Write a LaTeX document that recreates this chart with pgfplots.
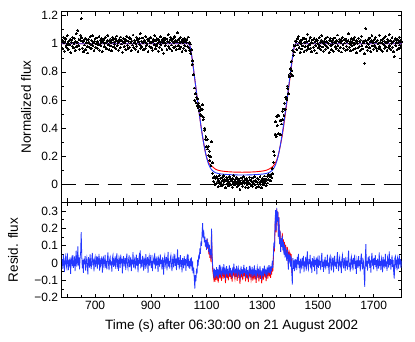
\documentclass[border=0pt]{standalone}
\usepackage{fontspec}
\setmainfont{Liberation Sans}
\usepackage{pgfplots}
\usepackage{pgfplotstable}
\pgfplotsset{compat=1.18}
\definecolor{fitblue}{RGB}{35,55,255}
\definecolor{fitred}{RGB}{255,0,0}

% light curve: time, normalized flux, residual (blue fit)
\pgfplotstableread{
t f r
582 1.021 0.021
584 0.966 -0.034
586 1.047 0.047
588 1.008 0.008
590 0.948 -0.052
592 1.015 0.015
594 1.036 0.036
596 0.989 -0.011
598 0.973 -0.027
600 1.058 0.058
602 1.004 0.004
604 0.959 -0.041
606 1.019 0.019
608 0.994 -0.006
610 1.032 0.032
612 0.937 -0.063
614 1.011 0.011
616 1.027 0.027
618 0.982 -0.018
620 1.044 0.044
622 0.971 -0.029
624 1.002 0.002
626 1.038 0.038
628 0.953 -0.047
630 1.013 0.013
632 1.071 0.071
634 0.978 -0.022
636 1.009 0.009
638 1.095 0.095
640 0.985 -0.015
642 1.031 0.031
644 0.962 -0.038
646 1.026 0.026
648 1.061 0.061
650 1.178 0.178
652 1.042 0.042
654 0.969 -0.031
656 1.017 0.017
658 0.942 -0.058
660 1.024 0.024
662 0.991 -0.009
664 1.039 0.039
666 0.956 -0.044
668 1.006 0.006
670 1.028 0.028
672 0.979 -0.021
674 0.934 -0.066
676 1.033 0.033
678 1.012 0.012
680 0.973 -0.027
682 1.049 0.049
684 0.997 -0.003
686 0.964 -0.036
688 1.022 0.022
690 1.057 0.057
692 0.986 -0.014
694 1.007 0.007
696 0.951 -0.049
698 1.018 0.018
700 1.035 0.035
702 0.976 -0.024
704 1.003 0.003
706 1.041 0.041
708 0.967 -0.033
710 1.014 0.014
712 0.992 -0.008
714 1.052 0.052
716 0.955 -0.045
718 1.026 0.026
720 0.988 -0.012
722 1.009 0.009
724 1.037 0.037
726 0.944 -0.056
728 1.016 0.016
730 1.029 0.029
732 0.981 -0.019
734 1.004 0.004
736 1.046 0.046
738 0.972 -0.028
740 1.011 0.011
742 0.963 -0.037
744 1.023 0.023
746 1.061 0.061
748 0.993 -0.007
750 0.958 -0.042
752 1.019 0.019
754 1.033 0.033
756 0.984 -0.016
758 1.008 0.008
760 0.949 -0.051
762 1.027 0.027
764 1.044 0.044
766 0.977 -0.023
768 1.012 0.012
770 0.996 -0.004
772 1.038 0.038
774 0.965 -0.035
776 1.021 0.021
778 1.055 0.055
780 0.987 -0.013
782 1.006 0.006
784 0.954 -0.046
786 1.031 0.031
788 1.017 0.017
790 0.971 -0.029
792 1.048 0.048
794 0.998 -0.002
796 1.025 0.025
798 0.939 -0.061
800 1.014 0.014
802 1.039 0.039
804 0.980 -0.020
806 1.007 0.007
808 1.029 0.029
810 0.959 -0.041
812 1.022 0.022
814 1.053 0.053
816 0.989 -0.011
818 0.968 -0.032
820 1.016 0.016
822 1.043 0.043
824 0.975 -0.025
826 1.005 0.005
828 1.034 0.034
830 0.952 -0.048
832 1.019 0.019
834 0.991 -0.009
836 1.062 0.062
838 0.973 -0.027
840 1.011 0.011
842 1.024 0.024
844 0.962 -0.038
846 1.003 0.003
848 1.047 0.047
850 0.983 -0.017
852 1.028 0.028
854 0.946 -0.054
856 1.013 0.013
858 1.036 0.036
860 0.994 -0.006
862 1.072 0.072
864 0.969 -0.031
866 1.018 0.018
868 0.978 -0.022
870 1.041 0.041
872 1.009 0.009
874 0.956 -0.044
876 1.026 0.026
878 1.015 0.015
880 0.965 -0.035
882 1.051 0.051
884 0.988 -0.012
886 1.004 0.004
888 1.033 0.033
890 0.942 -0.058
892 1.021 0.021
894 1.039 0.039
896 0.981 -0.019
898 1.007 0.007
900 1.046 0.046
902 0.971 -0.029
904 1.012 0.012
906 0.953 -0.047
908 1.031 0.031
910 1.018 0.018
912 0.992 -0.008
914 1.058 0.058
916 0.964 -0.036
918 1.024 0.024
920 0.985 -0.015
922 1.037 0.037
924 1.002 0.002
926 0.948 -0.052
928 1.028 0.028
930 1.013 0.013
932 0.976 -0.024
934 1.049 0.049
936 0.994 -0.006
938 1.019 0.019
940 0.961 -0.039
942 1.031 0.031
944 1.008 0.008
946 0.932 -0.068
948 1.022 0.022
950 1.041 0.041
952 0.986 -0.014
954 1.005 0.005
956 1.034 0.034
958 0.957 -0.043
960 1.016 0.016
962 1.063 0.063
964 0.979 -0.021
966 1.011 0.011
968 0.967 -0.033
970 1.027 0.027
972 1.044 0.044
974 0.991 -0.009
976 0.952 -0.048
978 1.019 0.019
980 1.036 0.036
982 0.974 -0.026
984 1.007 0.007
986 1.052 0.052
988 0.983 -0.017
990 1.024 0.024
992 0.959 -0.041
994 1.013 0.013
996 1.078 0.078
998 0.988 -0.012
1000 1.031 0.031
1002 0.963 -0.037
1004 1.009 0.009
1006 1.045 0.045
1008 0.977 -0.023
1010 1.017 0.017
1012 0.945 -0.055
1014 1.028 0.028
1016 1.006 0.006
1018 0.969 -0.031
1020 1.039 0.039
1022 0.986 -0.014
1024 1.022 0.022
1026 0.954 -0.046
1028 1.011 0.011
1030 1.033 0.033
1032 0.981 -0.019
1034 1.048 0.048
1036 0.973 -0.027
1038 1.009 0.012
1040 0.953 -0.035
1042 0.998 0.026
1044 0.933 -0.018
1046 0.957 0.031
1048 0.854 -0.044
1050 0.878 0.009
1052 0.778 -0.061
1054 0.780 -0.028
1056 0.685 -0.092
1058 0.598 -0.148
1060 0.644 -0.071
1062 0.579 -0.105
1064 0.619 -0.034
1066 0.560 -0.062
1068 0.609 0.018
1070 0.546 -0.015
1072 0.578 0.047
1074 0.522 0.021
1076 0.555 0.083
1078 0.495 0.052
1080 0.539 0.124
1082 0.486 0.098
1084 0.533 0.171
1086 0.566 0.229
1088 0.459 0.146
1090 0.477 0.187
1092 0.386 0.118
1094 0.399 0.152
1096 0.321 0.094
1098 0.340 0.131
1100 0.268 0.076
1102 0.319 0.142
1104 0.251 0.088
1106 0.270 0.119
1108 0.203 0.063
1110 0.236 0.105
1112 0.170 0.047
1114 0.197 0.081
1116 0.134 0.024
1118 0.303 0.198
1120 0.152 0.052
1122 0.078 -0.018
1124 0.047 -0.046
1126 0.019 -0.071
1128 0.054 -0.033
1130 -0.004 -0.089
1132 0.042 -0.041
1134 0.003 -0.078
1136 0.055 -0.025
1138 0.016 -0.063
1140 0.041 -0.037
1142 -0.017 -0.094
1144 0.028 -0.048
1146 0.063 -0.012
1148 0.006 -0.069
1150 0.043 -0.031
1152 0.016 -0.057
1154 -0.010 -0.083
1156 0.051 -0.022
1158 0.027 -0.046
1160 0.001 -0.071
1162 0.064 -0.008
1164 0.019 -0.053
1166 0.033 -0.039
1168 -0.025 -0.097
1170 0.026 -0.044
1172 0.051 -0.019
1174 0.004 -0.066
1176 0.035 -0.035
1178 -0.011 -0.081
1180 0.017 -0.052
1182 0.055 -0.014
1184 0.008 -0.061
1186 0.040 -0.029
1188 -0.005 -0.074
1190 0.025 -0.043
1192 -0.020 -0.088
1194 0.042 -0.026
1196 0.010 -0.058
1198 0.064 -0.004
1200 0.018 -0.049
1202 -0.005 -0.072
1204 0.034 -0.033
1206 0.006 -0.061
1208 0.050 -0.017
1210 -0.018 -0.084
1212 0.021 -0.045
1214 0.038 -0.028
1216 -0.001 -0.067
1218 0.027 -0.039
1220 -0.035 -0.101
1222 0.012 -0.054
1224 0.045 -0.021
1226 0.003 -0.063
1228 0.030 -0.036
1230 -0.013 -0.079
1232 0.019 -0.047
1234 0.055 -0.011
1236 0.008 -0.058
1238 0.034 -0.032
1240 -0.020 -0.086
1242 0.015 -0.051
1244 0.042 -0.024
1246 -0.003 -0.069
1248 0.025 -0.042
1250 -0.024 -0.091
1252 0.012 -0.055
1254 0.049 -0.018
1256 0.003 -0.064
1258 0.031 -0.037
1260 -0.008 -0.076
1262 0.019 -0.049
1264 0.045 -0.023
1266 -0.014 -0.082
1268 0.023 -0.046
1270 0.008 -0.061
1272 0.054 -0.015
1274 -0.004 -0.073
1276 0.028 -0.041
1278 -0.025 -0.095
1280 0.018 -0.052
1282 0.043 -0.027
1284 0.002 -0.068
1286 0.036 -0.034
1288 -0.015 -0.087
1290 0.016 -0.056
1292 0.053 -0.019
1294 0.000 -0.072
1296 0.029 -0.043
1298 -0.025 -0.098
1300 0.015 -0.058
1302 0.042 -0.031
1304 -0.004 -0.077
1306 0.029 -0.045
1308 0.059 -0.016
1310 0.011 -0.064
1312 0.038 -0.038
1314 -0.008 -0.085
1316 0.029 -0.049
1318 0.057 -0.022
1320 0.009 -0.071
1322 0.037 -0.044
1324 0.070 -0.013
1326 0.027 -0.058
1328 0.055 -0.032
1330 0.024 -0.066
1332 0.072 -0.021
1334 0.049 -0.047
1336 0.112 0.012
1338 0.076 -0.029
1340 0.156 0.046
1342 0.234 0.118
1344 0.207 0.084
1346 0.357 0.226
1348 0.445 0.305
1350 0.338 0.187
1352 0.481 0.318
1354 0.418 0.241
1356 0.488 0.296
1358 0.361 0.152
1360 0.490 0.263
1362 0.355 0.108
1364 0.455 0.187
1366 0.354 0.064
1368 0.454 0.141
1370 0.429 0.092
1372 0.520 0.158
1374 0.461 0.073
1376 0.536 0.121
1378 0.491 0.048
1380 0.578 0.106
1382 0.532 0.031
1384 0.620 0.089
1386 0.615 0.054
1388 0.603 0.012
1390 0.699 0.077
1392 0.681 0.028
1394 0.645 -0.039
1396 0.776 0.061
1398 0.765 0.019
1400 0.821 0.044
1402 0.787 -0.021
1404 0.875 0.036
1406 0.811 -0.058
1408 0.772 -0.126
1410 0.953 0.027
1412 0.917 -0.034
1414 0.987 0.015
1416 0.941 -0.047
1418 1.019 0.022
1420 0.989 -0.011
1422 1.018 0.018
1424 0.958 -0.042
1426 1.035 0.035
1428 0.991 -0.009
1430 1.052 0.052
1432 0.972 -0.028
1434 1.011 0.011
1436 0.939 -0.061
1438 1.024 0.024
1440 1.003 0.003
1442 0.963 -0.037
1444 1.029 0.029
1446 0.984 -0.016
1448 1.041 0.041
1450 0.947 -0.053
1452 1.008 0.008
1454 0.978 -0.022
1456 1.034 0.034
1458 0.955 -0.045
1460 1.013 0.013
1462 1.067 0.067
1464 0.981 -0.019
1466 0.964 -0.036
1468 1.021 0.021
1470 0.993 -0.007
1472 1.046 0.046
1474 0.969 -0.031
1476 1.009 0.009
1478 0.942 -0.058
1480 1.027 0.027
1482 1.005 0.005
1484 0.976 -0.024
1486 1.039 0.039
1488 0.953 -0.047
1490 1.016 0.016
1492 0.988 -0.012
1494 1.031 0.031
1496 0.934 -0.066
1498 1.022 0.022
1500 1.004 0.004
1502 0.971 -0.029
1504 1.043 0.043
1506 0.985 -0.015
1508 1.011 0.011
1510 0.959 -0.041
1512 1.026 0.026
1514 1.057 0.057
1516 0.977 -0.023
1518 1.007 0.007
1520 0.948 -0.052
1522 1.019 0.019
1524 0.994 -0.006
1526 1.035 0.035
1528 0.962 -0.038
1530 1.014 0.014
1532 0.983 -0.017
1534 1.048 0.048
1536 0.973 -0.027
1538 1.002 0.002
1540 0.937 -0.063
1542 1.025 0.025
1544 1.038 0.038
1546 0.989 -0.011
1548 0.956 -0.044
1550 1.017 0.017
1552 0.997 -0.003
1554 1.031 0.031
1556 0.945 -0.055
1558 1.012 0.012
1560 1.041 0.041
1562 0.979 -0.021
1564 1.006 0.006
1566 0.965 -0.035
1568 1.024 0.024
1570 1.062 0.062
1572 0.986 -0.014
1574 0.952 -0.048
1576 1.016 0.016
1578 1.033 0.033
1580 0.974 -0.026
1582 1.009 0.009
1584 0.941 -0.059
1586 1.021 0.021
1588 1.044 0.044
1590 0.992 -0.008
1592 0.968 -0.032
1594 1.027 0.027
1596 1.005 0.005
1598 0.954 -0.046
1600 1.034 0.034
1602 0.982 -0.018
1604 1.013 0.013
1606 0.961 -0.039
1608 1.023 0.023
1610 1.071 0.071
1612 0.976 -0.024
1614 1.001 0.001
1616 0.949 -0.051
1618 1.018 0.018
1620 1.036 0.036
1622 0.987 -0.013
1624 1.008 0.008
1626 0.957 -0.043
1628 1.029 0.029
1630 0.993 -0.007
1632 1.047 0.047
1634 0.966 -0.034
1636 1.012 0.012
1638 0.936 -0.064
1640 1.021 0.021
1642 1.003 0.003
1644 0.972 -0.028
1646 1.039 0.039
1648 0.981 -0.019
1650 1.015 0.015
1652 0.951 -0.049
1654 1.026 0.026
1656 1.053 0.053
1658 0.988 -0.012
1660 0.963 -0.037
1662 1.019 0.019
1664 1.006 0.006
1666 0.928 -0.072
1668 0.861 -0.139
1670 1.024 0.024
1672 1.108 0.108
1674 0.979 -0.021
1676 1.011 0.011
1678 0.955 -0.045
1680 1.032 0.032
1682 0.996 -0.004
1684 1.041 0.041
1686 0.971 -0.029
1688 1.014 0.014
1690 0.944 -0.056
1692 1.022 0.022
1694 1.058 0.058
1696 0.984 -0.016
1698 1.007 0.007
1700 0.962 -0.038
1702 1.029 0.029
1704 0.989 -0.011
1706 1.045 0.045
1708 0.975 -0.025
1710 1.016 0.016
1712 0.953 -0.047
1714 1.024 0.024
1716 1.003 0.003
1718 0.967 -0.033
1720 1.061 0.061
1722 0.982 -0.018
1724 1.012 0.012
1726 0.959 -0.041
1728 1.027 0.027
1730 1.009 0.009
1732 0.946 -0.054
1734 1.035 0.035
1736 0.994 -0.006
1738 1.019 0.019
1740 0.969 -0.031
1742 1.052 0.052
1744 0.978 -0.022
1746 1.008 0.008
1748 0.954 -0.046
1750 1.031 0.031
1752 1.014 0.014
1754 0.973 -0.027
1756 1.066 0.066
1758 0.987 -0.013
1760 1.021 0.021
1762 0.961 -0.039
1764 1.004 0.004
1766 1.043 0.043
1768 0.976 -0.024
1770 1.017 0.017
1772 0.942 -0.058
1774 0.909 -0.091
1776 1.026 0.026
1778 1.038 0.038
1780 0.985 -0.015
1782 1.006 0.006
1784 0.957 -0.043
1786 1.029 0.029
1788 1.011 0.011
1790 0.966 -0.034
1792 1.047 0.047
1794 0.991 -0.009
1796 1.022 0.022
1798 0.972 -0.028
1800 1.013 0.013
}\lcdata

% residuals against the red fit (where it differs from the blue one)
\pgfplotstableread{
t rr
1098 0.131
1100 0.076
1102 0.139
1104 0.082
1106 0.109
1108 0.050
1110 0.089
1112 0.029
1114 0.061
1116 0.004
1118 0.178
1120 0.032
1122 -0.038
1124 -0.066
1126 -0.091
1128 -0.053
1130 -0.109
1132 -0.061
1134 -0.098
1136 -0.045
1138 -0.083
1140 -0.057
1142 -0.114
1144 -0.068
1146 -0.032
1148 -0.089
1150 -0.051
1152 -0.077
1154 -0.103
1156 -0.042
1158 -0.066
1160 -0.091
1162 -0.028
1164 -0.073
1166 -0.059
1168 -0.117
1170 -0.064
1172 -0.039
1174 -0.086
1176 -0.055
1178 -0.101
1180 -0.072
1182 -0.034
1184 -0.081
1186 -0.049
1188 -0.094
1190 -0.063
1192 -0.108
1194 -0.046
1196 -0.078
1198 -0.024
1200 -0.069
1202 -0.092
1204 -0.053
1206 -0.081
1208 -0.037
1210 -0.104
1212 -0.065
1214 -0.048
1216 -0.087
1218 -0.059
1220 -0.121
1222 -0.074
1224 -0.041
1226 -0.083
1228 -0.056
1230 -0.099
1232 -0.067
1234 -0.031
1236 -0.078
1238 -0.052
1240 -0.106
1242 -0.071
1244 -0.044
1246 -0.089
1248 -0.062
1250 -0.111
1252 -0.075
1254 -0.038
1256 -0.084
1258 -0.057
1260 -0.096
1262 -0.069
1264 -0.043
1266 -0.102
1268 -0.066
1270 -0.081
1272 -0.035
1274 -0.093
1276 -0.061
1278 -0.115
1280 -0.072
1282 -0.047
1284 -0.088
1286 -0.054
1288 -0.107
1290 -0.076
1292 -0.039
1294 -0.092
1296 -0.063
1298 -0.118
1300 -0.078
1302 -0.051
1304 -0.097
1306 -0.065
1308 -0.036
1310 -0.084
1312 -0.058
1314 -0.105
1316 -0.069
1318 -0.042
1320 -0.091
1322 -0.064
1324 -0.033
1326 -0.078
1328 -0.052
1330 -0.086
1332 -0.041
1334 -0.067
1336 -0.008
1338 -0.049
1340 0.026
1342 0.098
1344 0.066
1346 0.210
1348 0.292
1350 0.177
1352 0.312
1354 0.238
1356 0.296
1358 0.152
1360 0.263
1362 0.108
1364 0.187
1366 0.064
1368 0.141
1370 0.107
1372 0.173
1374 0.088
1376 0.136
1378 0.063
1380 0.121
1382 0.046
1384 0.104
1386 0.069
1388 0.027
1390 0.092
1392 0.043
1394 -0.024
1396 0.076
1398 0.034
1400 0.059
1402 -0.006
1404 0.051
1406 -0.058
}\redres

\pgfplotstableread{
t m
580 1.000
1036 1.000
1040 0.988
1044 0.951
1048 0.898
1052 0.839
1056 0.777
1060 0.715
1064 0.653
1068 0.591
1072 0.531
1076 0.472
1080 0.415
1084 0.362
1088 0.313
1092 0.268
1096 0.227
1100 0.192
1104 0.163
1108 0.140
1112 0.123
1116 0.110
1120 0.100
1126 0.090
1132 0.083
1140 0.078
1150 0.074
1160 0.072
1180 0.069
1200 0.067
1228 0.066
1256 0.067
1276 0.069
1296 0.072
1306 0.074
1316 0.078
1324 0.083
1330 0.090
1336 0.100
1340 0.110
1344 0.123
1348 0.140
1352 0.163
1356 0.192
1360 0.227
1364 0.268
1368 0.313
1372 0.362
1376 0.415
1380 0.472
1384 0.531
1388 0.591
1392 0.653
1396 0.715
1400 0.777
1404 0.839
1408 0.898
1412 0.951
1416 0.988
1420 1.000
1800 1.000
}\bluefit

\pgfplotstableread{
t m
580 1.000
1036 1.000
1040 0.988
1044 0.951
1048 0.898
1052 0.839
1056 0.777
1060 0.715
1064 0.653
1068 0.591
1072 0.531
1076 0.472
1080 0.415
1084 0.362
1088 0.313
1092 0.268
1096 0.227
1100 0.194
1104 0.170
1108 0.152
1112 0.141
1116 0.136
1120 0.128
1124 0.121
1128 0.114
1132 0.108
1140 0.101
1150 0.096
1160 0.093
1180 0.089
1200 0.087
1228 0.086
1256 0.087
1276 0.089
1296 0.093
1306 0.096
1316 0.101
1324 0.108
1330 0.115
1336 0.124
1340 0.132
1344 0.142
1348 0.155
1352 0.172
1356 0.195
1360 0.227
1364 0.266
1368 0.305
1372 0.347
1376 0.400
1380 0.457
1384 0.516
1388 0.576
1392 0.638
1396 0.700
1400 0.762
1404 0.824
1408 0.888
1412 0.945
1416 0.986
1420 1.000
1800 1.000
}\redfit

\begin{document}
\begin{tikzpicture}
\useasboundingbox (0,0) rectangle (415pt,341pt);
\pgfplotsset{
  every axis/.append style={
    scale only axis, width=339.8pt,
    xmin=580, xmax=1800,
    xtick={600,700,...,1700}, minor x tick num=1,
    tick align=inside,
    major tick length=4pt, minor tick length=2.2pt,
    every tick/.style={black, line width=0.6pt},
    axis line style={line width=0.8pt},
    tick label style={font=\fontsize{12}{14}\selectfont},
    label style={font=\fontsize{13.5}{16}\selectfont},
  },
}
% top panel: light curve with both fits
\begin{axis}[
  at={(61.7pt,138.7pt)}, anchor=south west, height=190.6pt,
  ymin=-0.128, ymax=1.228,
  ytick={0,0.2,0.4,0.6,0.8,1,1.2},
  yticklabels={0,0.2,0.4,0.6,0.8,1,1.2},
  minor y tick num=1,
  xticklabels={},
  ylabel={Normalized flux},
  ylabel style={at={(axis description cs:-0.105,0.5)}, anchor=center},
]
\addplot[black, line width=1.1pt, dash pattern=on 14pt off 9pt] coordinates {(580,0) (1800,0)};
\addplot[only marks, mark=*, mark size=0.95pt, mark options={black, line width=0pt}] table[x=t, y=f]{\lcdata};
\addplot[fitred, line width=0.9pt] table[x=t, y=m]{\redfit};
\addplot[fitblue, line width=0.9pt] table[x=t, y=m]{\bluefit};
\end{axis}
% bottom panel: residuals
\begin{axis}[
  at={(61.7pt,43.5pt)}, anchor=south west, height=95.2pt,
  ymin=-0.2, ymax=0.35,
  ytick={-0.2,-0.1,0,0.1,0.2,0.3},
  yticklabels={−0.2,−0.1,0,0.1,0.2,0.3},
  minor y tick num=1,
  xticklabels={,700,,900,,1100,,1300,,1500,,1700},
  ylabel={Resid. flux},
  ylabel style={at={(axis description cs:-0.143,0.5)}, anchor=center},
  xlabel={Time (s) after 06:30:00 on 21 August 2002},
  xlabel style={at={(axis description cs:0.5,-0.30)}, anchor=center},
]
\addplot[fitred, line width=0.8pt] table[x=t, y=rr]{\redres};
\addplot[fitblue, line width=0.8pt] table[x=t, y=r]{\lcdata};
\end{axis}
\end{tikzpicture}
\end{document}
